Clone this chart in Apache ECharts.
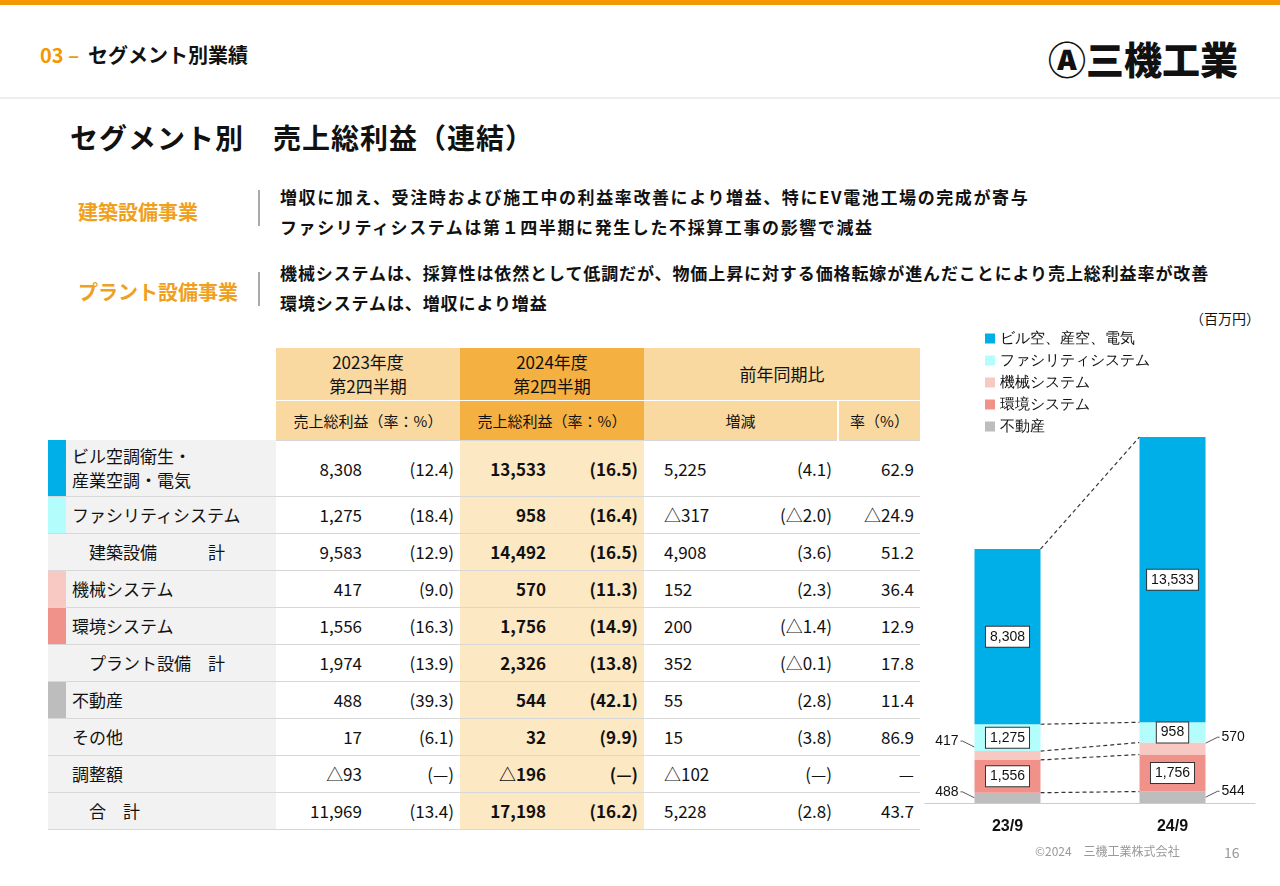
<!DOCTYPE html>
<html><head><meta charset="utf-8">
<script src="https://cdn.jsdelivr.net/npm/echarts@6/dist/echarts.min.js"></script>
<style>
body{margin:0;width:1280px;height:886px;position:relative;background:#fff;font-family:"Noto Sans CJK JP","Noto Sans",sans-serif;color:#111;overflow:hidden}
.a{position:absolute;white-space:nowrap}
table{position:absolute;left:48px;top:348px;border-collapse:collapse;font-size:17px}
td{padding:0 6px;height:36px;border-bottom:1px solid #d8d8d8;text-align:right}
td.l{text-align:left;background:#f2f2f2;width:198px}
td.s{width:8px;padding:0}
td.h{background:#fde8c4}
td.b{font-weight:bold}
</style></head><body>
<div class="a" style="left:0;top:0;width:1280px;height:5px;background:#f39800"></div>
<div class="a" style="left:0;top:97px;width:1280px;height:2px;background:#eee"></div>
<div class="a" style="left:40px;top:40px;font-size:20px;font-weight:bold"><span style="color:#f39800">03 –</span>&nbsp; セグメント別業績</div>
<div class="a" style="left:1048px;top:30px;font-size:38px;font-weight:900">Ⓐ三機工業</div>
<div class="a" style="left:70px;top:117px;font-size:28px;font-weight:bold;letter-spacing:1px">セグメント別　売上総利益（連結）</div>
<div class="a" style="left:78px;top:197px;font-size:20px;font-weight:bold;color:#f0a020">建築設備事業</div>
<div class="a" style="left:78px;top:277px;font-size:20px;font-weight:bold;color:#f0a020">プラント設備事業</div>
<div class="a" style="left:258px;top:190px;width:2px;height:36px;background:#aaa"></div>
<div class="a" style="left:258px;top:272px;width:2px;height:34px;background:#aaa"></div>
<div class="a" style="left:280px;top:182px;font-size:17px;font-weight:bold;line-height:30px;letter-spacing:1.6px">増収に加え、受注時および施工中の利益率改善により増益、特にEV電池工場の完成が寄与<br>ファシリティシステムは第１四半期に発生した不採算工事の影響で減益</div>
<div class="a" style="left:280px;top:258px;font-size:17px;font-weight:bold;line-height:30px;letter-spacing:0.9px">機械システムは、採算性は依然として低調だが、物価上昇に対する価格転嫁が進んだことにより売上総利益率が改善<br>環境システムは、増収により増益</div>
<div class="a" style="left:1190px;top:308px;font-size:14px">（百万円）</div>
<div id="tbl"></div>
<div id="c" class="a" style="left:900px;top:310px;width:380px;height:540px"></div>
<div class="a" style="left:1035px;top:842px;font-size:12px;color:#999">©2024　三機工業株式会社</div>
<div class="a" style="left:1224px;top:842px;font-size:14px;color:#999">16</div>
<script>
const rowLabels=['ビル空調衛生・<br>産業空調・電気','ファシリティシステム','　建築設備　　　計','機械システム','環境システム','　プラント設備　計','不動産','その他','調整額','　合　計'];
const stripColors=['#00aee8','#b3fdfd','','#f8c9c3','#f0928a','','#bdbdbd','','',''];
const v23=['8,308','1,275','9,583','417','1,556','1,974','488','17','△93','11,969'];
const r23=['(12.4)','(18.4)','(12.9)','(9.0)','(16.3)','(13.9)','(39.3)','(6.1)','(—)','(13.4)'];
const v24=['13,533','958','14,492','570','1,756','2,326','544','32','△196','17,198'];
const r24=['(16.5)','(16.4)','(16.5)','(11.3)','(14.9)','(13.8)','(42.1)','(9.9)','(—)','(16.2)'];
const dif=['5,225','△317','4,908','152','200','352','55','15','△102','5,228'];
const dr=['(4.1)','(△2.0)','(3.6)','(2.3)','(△1.4)','(△0.1)','(2.8)','(3.8)','(—)','(2.8)'];
const pct=['62.9','△24.9','51.2','36.4','12.9','17.8','11.4','86.9','—','43.7'];

let h='<table><tr style="height:52px"><td class="s" style="border:0"></td><td style="border:0"></td><td colspan=2 style="background:#fad9a0;text-align:center;line-height:24px;border-bottom:1px solid #fff">2023年度<br>第2四半期</td><td colspan=2 style="background:#f5b042;text-align:center;line-height:24px;border-bottom:1px solid #fff">2024年度<br>第2四半期</td><td colspan=3 style="background:#fad9a0;text-align:center;border-bottom:1px solid #fff">前年同期比</td></tr>'+
'<tr style="height:40px;font-size:15px"><td class="s" style="border:0"></td><td style="border:0"></td><td colspan=2 style="background:#fad9a0;text-align:center">売上総利益（率：%）</td><td colspan=2 style="background:#f5b042;text-align:center">売上総利益（率：%）</td><td colspan=2 style="background:#fad9a0;text-align:center;border-right:2px solid #fff">増減</td><td style="background:#fad9a0;text-align:center">率（%）</td></tr>';
for(let i=0;i<rowLabels.length;i++){
 const ht=i==0?56:36;
 h+=`<tr style="height:${ht}px"><td class="s" style="background:${stripColors[i]||'#f2f2f2'};width:18px"></td><td class="l" style="line-height:24px">${rowLabels[i]}</td>`+
 `<td style="width:80px">${v23[i]}</td><td style="width:80px">${r23[i]}</td><td class="h b" style="width:80px">${v24[i]}</td><td class="h b" style="width:80px">${r24[i]}</td>`+
 `<td style="width:68px;text-align:left;padding-left:20px">${dif[i]}</td><td style="width:88px">${dr[i]}</td><td style="width:70px">${pct[i]}</td></tr>`;
}
document.getElementById('tbl').outerHTML=h+'</table>';

const cats=['23/9','24/9'];
const names=['不動産','環境システム','機械システム','ファシリティシステム','ビル空、産空、電気'];
const colors=['#bdbdbd','#f0928a','#f8c9c3','#b3fdfd','#00aee8'];
const vals=[[488,544],[1556,1756],[417,570],[1275,958],[8308,13533]];
const chart=echarts.init(document.getElementById('c'));
const boxLbl={show:true,backgroundColor:'#fff',borderColor:'#333',borderWidth:1,padding:[3,4],color:'#111',fontSize:14,formatter:p=>p.value.toLocaleString('en-US')};
const series=names.map((n,i)=>{
 let label={show:false};
 if(i==4||i==3||i==1) label=boxLbl;
 return {name:n,type:'bar',stack:'s',barWidth:66,itemStyle:{color:colors[i]},data:vals[i],label:label};
});
series.push({type:'custom',silent:true,data:[0],renderItem:(p,api)=>{
 const kids=[];
 for(let k=0;k<5;k++){
  let c0=0,c1=0;for(let j=0;j<=k;j++){c0+=vals[j][0];c1+=vals[j][1];}
  const a=api.coord([0,c0]),b=api.coord([1,c1]);
  kids.push({type:'line',shape:{x1:a[0]+33,y1:a[1],x2:b[0]-33,y2:b[1]},style:{stroke:'#333',lineDash:[4,3],lineWidth:1.2}});
 }
 const side=[[0,vals[0][0]/2,'488'],[0,vals[0][0]+vals[1][0]+vals[2][0]/2+400,'417'],[1,vals[0][1]/2,'544'],[1,vals[0][1]+vals[1][1]+vals[2][1]/2+250,'570']];
 side.forEach(s=>{const q=api.coord([s[0],s[1]]);const left=s[0]==0;
  const x0=left?q[0]-33:q[0]+33, x1=left?x0-12:x0+12;
  kids.push({type:'polyline',shape:{points:[[x0,q[1]],[x1,q[1]-6],[x1+(left?-2:2),q[1]-6]]},style:{stroke:'#555',fill:null}});
  kids.push({type:'text',style:{text:s[2],x:left?x1-4:x1+4,y:q[1]-6,align:left?'right':'left',verticalAlign:'middle',fontSize:14,fill:'#111'}});
 });
 return {type:'group',children:kids};
}});
chart.setOption({
 animation:false,
 legend:{orient:'vertical',left:80,top:16,itemWidth:10,itemHeight:10,itemGap:7,icon:'rect',textStyle:{fontSize:15,color:'#111'},data:names.slice().reverse()},
 grid:{left:25,width:330,top:127,height:366},
 xAxis:{type:'category',data:cats,axisTick:{show:false},axisLine:{lineStyle:{color:'#ccc'}},axisLabel:{fontWeight:'bold',fontSize:16,color:'#111',margin:16}},
 yAxis:{type:'value',min:0,max:17361,show:false,splitLine:{show:false}},
 series:series
});
</script></body></html>
